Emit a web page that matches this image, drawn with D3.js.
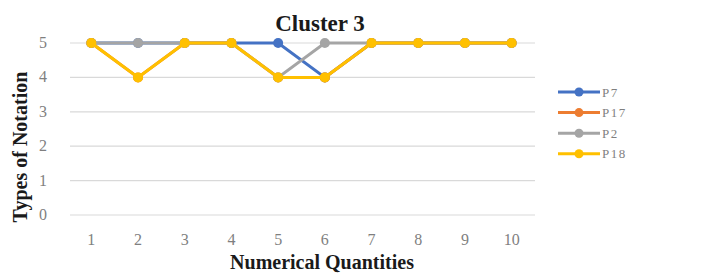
<!DOCTYPE html>
<html>
<head>
<meta charset="utf-8">
<script src="https://cdn.jsdelivr.net/npm/d3@7"></script>
<style>
  body { margin: 0; background: #fff; }
  text { font-family: "Liberation Serif", "Times New Roman", serif; }
</style>
</head>
<body>
<div id="chart"></div>
<script>
// data
var quantities = [1, 2, 3, 4, 5, 6, 7, 8, 9, 10];
var seriesNames = ["P7", "P17", "P2", "P18"];
var p7  = [5, 5, 5, 5, 5, 4, 5, 5, 5, 5];
var p17 = [5, 4, 5, 5, 4, 4, 5, 5, 5, 5];
var p2  = [5, 5, 5, 5, 4, 5, 5, 5, 5, 5];
var p18 = [5, 4, 5, 5, 4, 4, 5, 5, 5, 5];
var yTicks = [0, 1, 2, 3, 4, 5];

var colors = ["#4472C4", "#ED7D31", "#A5A5A5", "#FFC000"];
var allSeries = [p7, p17, p2, p18];

var W = 716, H = 278;
var margin = {top: 43, right: 181, bottom: 63, left: 68},
    width = W - margin.left - margin.right,
    height = H - margin.top - margin.bottom;

var svg = d3.select("#chart")
    .append("svg")
    .attr("width", W)
    .attr("height", H);

var g = svg.append("g")
    .attr("transform", "translate(" + margin.left + "," + margin.top + ")");

var x = d3.scaleBand()
    .domain(quantities)
    .range([0, width]);

var y = d3.scaleLinear()
    .domain([0, 5])
    .range([height, 0]);

// gridlines
g.append("g")
    .selectAll("line")
    .data(yTicks)
    .enter()
    .append("line")
    .attr("x1", 2)
    .attr("x2", width)
    .attr("y1", d => y(d))
    .attr("y2", d => y(d))
    .style("stroke", "#d9d9d9")
    .style("stroke-width", 1.2);

// y tick labels
g.append("g")
    .selectAll("text")
    .data(yTicks)
    .enter()
    .append("text")
    .attr("x", -25)
    .attr("y", d => y(d) + 5)
    .attr("text-anchor", "middle")
    .attr("font-size", "16px")
    .attr("fill", "#7f7f7f")
    .text(d => d);

// x tick labels
g.append("g")
    .selectAll("text")
    .data(quantities)
    .enter()
    .append("text")
    .attr("x", d => x(d) + x.bandwidth() / 2)
    .attr("y", height + 30)
    .attr("text-anchor", "middle")
    .attr("font-size", "16px")
    .attr("fill", "#7f7f7f")
    .text(d => d);

var line = d3.line()
    .x((d, i) => x(quantities[i]) + x.bandwidth() / 2)
    .y(d => y(d));

allSeries.forEach(function(vals, k) {
    g.append("path")
        .datum(vals)
        .attr("d", line)
        .style("fill", "none")
        .style("stroke", colors[k])
        .style("stroke-width", 3);
    g.append("g")
        .selectAll("circle")
        .data(vals)
        .enter()
        .append("circle")
        .attr("cx", (d, i) => x(quantities[i]) + x.bandwidth() / 2)
        .attr("cy", d => y(d))
        .attr("r", 5)
        .style("fill", colors[k]);
});

// title
svg.append("text")
    .attr("x", 320)
    .attr("y", 31)
    .attr("text-anchor", "middle")
    .attr("font-size", "23px")
    .attr("font-weight", "bold")
    .attr("fill", "#1a1a1a")
    .text("Cluster 3");

// axis titles
svg.append("text")
    .attr("x", 322)
    .attr("y", 269)
    .attr("text-anchor", "middle")
    .attr("font-size", "20px")
    .attr("font-weight", "bold")
    .attr("fill", "#1a1a1a")
    .text("Numerical Quantities");

svg.append("text")
    .attr("transform", "translate(27,147) rotate(-90)")
    .attr("text-anchor", "middle")
    .attr("font-size", "20px")
    .attr("font-weight", "bold")
    .attr("fill", "#1a1a1a")
    .text("Types of Notation");

// legend
var legend = svg.append("g")
    .selectAll("g")
    .data(seriesNames)
    .enter()
    .append("g")
    .attr("transform", (d, i) => "translate(558," + (92 + i * 20.6) + ")");

legend.append("line")
    .attr("x1", 0)
    .attr("x2", 42)
    .style("stroke", (d, i) => colors[i])
    .style("stroke-width", 3);

legend.append("circle")
    .attr("cx", 21)
    .attr("r", 4.5)
    .style("fill", (d, i) => colors[i]);

legend.append("text")
    .attr("x", 44)
    .attr("y", 4.5)
    .attr("font-size", "13px")
    .attr("letter-spacing", "1.5px")
    .attr("fill", "#7f7f7f")
    .text(d => d);
</script>
</body>
</html>
